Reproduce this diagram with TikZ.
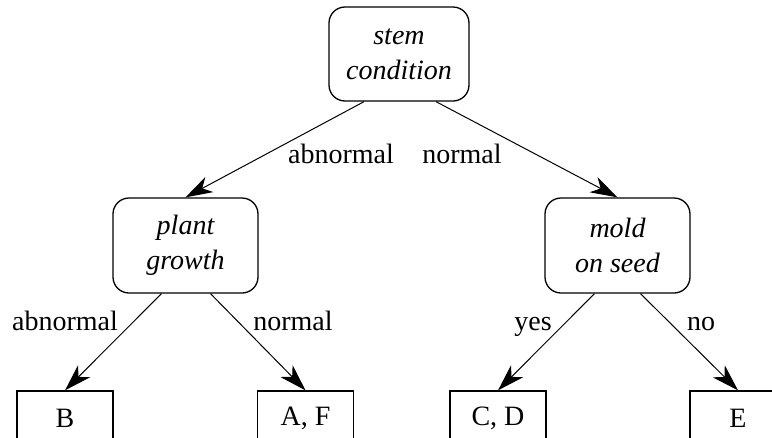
\documentclass[tikz,border=0pt]{standalone}
\usepackage{fontspec}
\setmainfont{Liberation Serif}
\usetikzlibrary{arrows.meta}
\begin{document}
\begin{tikzpicture}[x=1pt,y=-1pt,
  every node/.style={font=\fontsize{28}{35}\selectfont},
  test/.style={draw,line width=1.3pt,rounded corners=16pt,align=center,
    minimum width=142pt,minimum height=95pt,inner sep=0pt,
    font=\fontsize{28}{35}\selectfont\itshape},
  leaf/.style={draw,line width=1.3pt,minimum width=96pt,minimum height=54pt,inner sep=0pt},
  branch/.style={line width=1pt,-{Stealth[length=27pt,width=17pt,inset=8pt]}},
  lbl/.style={anchor=base,inner sep=0pt}]
\clip (0,0) rectangle (772,437);
\node[test,minimum width=140pt,minimum height=94pt] (stem) at (399,54) {stem\\condition};
\node[test,minimum width=145pt] (plant) at (185.5,245.5) {plant\\growth};
\node[test,minimum width=145pt] (mold) at (617.5,245.5) {mold\\on seed};
\node[leaf] (B) at (65,418) {B};
\node[leaf] (AF) at (305.5,418) {A, F};
\node[leaf] (CD) at (498,418) {C, D};
\node[leaf] (E) at (738,418) {E};
\draw[branch] ([xshift=-35pt]stem.south) -- (plant.north);
\draw[branch] ([xshift=37pt]stem.south) -- (mold.north);
\draw[branch] ([xshift=-24pt]plant.south) -- (B.north);
\draw[branch] ([xshift=25pt]plant.south) -- (AF.north);
\draw[branch] ([xshift=-23pt]mold.south) -- (CD.north);
\draw[branch] ([xshift=23pt]mold.south) -- (E.north);
\node[lbl] (l1) at (341,163) {abnormal};
\node[lbl] (l2) at (462,163) {normal};
\node[lbl] (l3) at (65,330) {abnormal};
\node[lbl] (l4) at (293,330) {normal};
\node[lbl] (l5) at (533,330) {yes};
\node[lbl] (l6) at (701,330) {no};
\end{tikzpicture}
\end{document}
